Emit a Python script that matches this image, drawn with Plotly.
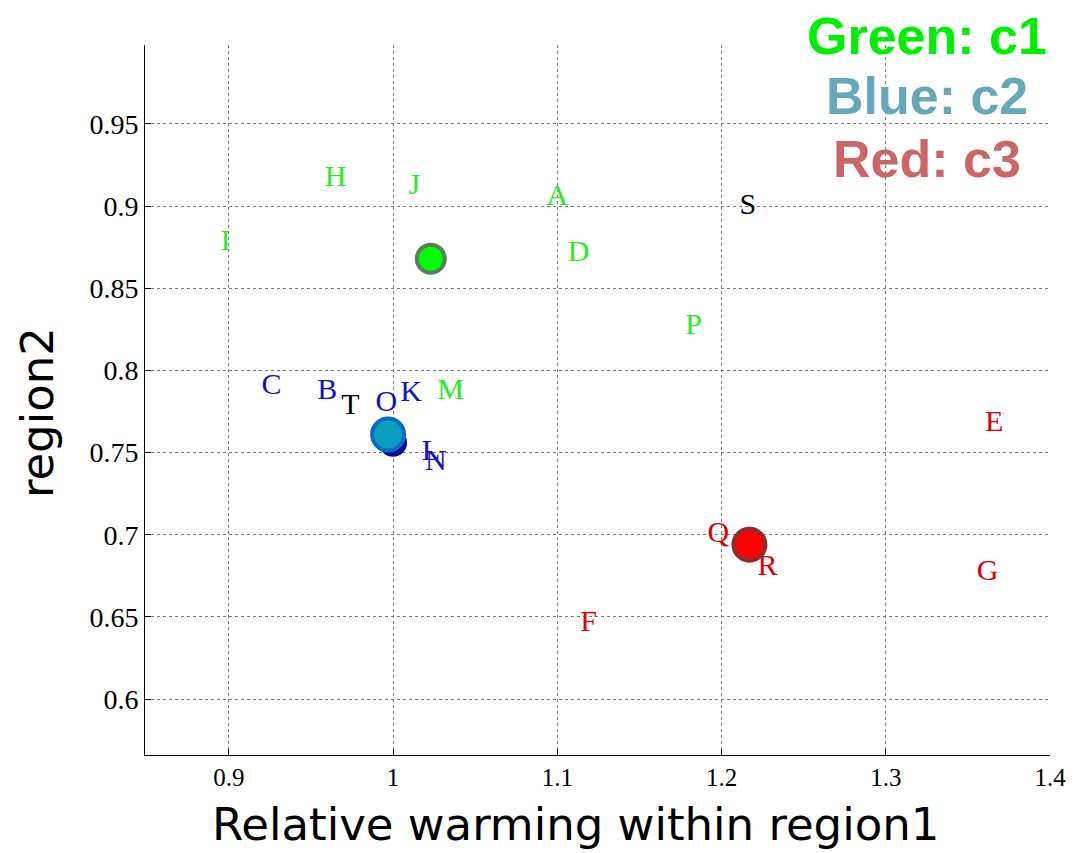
import plotly.graph_objects as go

# Labelled points (text centres)
green_labels = ["H", "J", "A", "I", "D", "P", "M"]
green_x = [0.965, 1.013, 1.100, 0.898, 1.113, 1.183, 1.035]
green_y = [0.917, 0.912, 0.905, 0.878, 0.871, 0.827, 0.787]

blue_labels = ["C", "B", "O", "K", "L", "N"]
blue_x = [0.926, 0.960, 0.996, 1.011, 1.023, 1.026]
blue_y = [0.790, 0.787, 0.780, 0.786, 0.750, 0.744]

black_labels = ["S", "T"]
black_x = [1.216, 0.974]
black_y = [0.900, 0.778]

red_labels = ["E", "Q", "R", "G", "F"]
red_x = [1.366, 1.198, 1.228, 1.362, 1.119]
red_y = [0.768, 0.700, 0.680, 0.677, 0.646]

# Cluster means
green_mean = (1.023, 0.868)
blue_mean_dark = (1.000, 0.756)
blue_mean = (0.997, 0.761)
red_mean = (1.217, 0.694)

x_ticks = [0.9, 1.0, 1.1, 1.2, 1.3, 1.4]
x_tick_text = ["0.9", "1", "1.1", "1.2", "1.3", "1.4"]
y_ticks = [0.6, 0.65, 0.7, 0.75, 0.8, 0.85, 0.9, 0.95]
y_tick_text = ["0.6", "0.65", "0.7", "0.75", "0.8", "0.85", "0.9", "0.95"]

legend_texts = ["Green: c1", "Blue: c2", "Red: c3"]
legend_colors = ["#00ee00", "#66a8ba", "#cc6666"]
legend_ypos = [1.013, 0.928, 0.840]

x_title = "Relative warming within region1"
y_title = "region2"

fig = go.Figure()

serif = "Liberation Serif"
sans = "Liberation Sans"


def letters(xs, ys, labels, color):
    fig.add_trace(go.Scatter(
        x=xs, y=ys, mode="text", text=labels,
        textfont=dict(family=serif, size=30, color=color),
        textposition="middle center", hoverinfo="skip", showlegend=False))


letters(green_x, green_y, green_labels, "#22ee22")
letters(blue_x, blue_y, blue_labels, "#1010cc")
letters(black_x, black_y, black_labels, "#000000")
letters(red_x, red_y, red_labels, "#dd0000")


def mean_marker(pt, fill, edge, size=26, width=4):
    fig.add_trace(go.Scatter(
        x=[pt[0]], y=[pt[1]], mode="markers",
        marker=dict(size=size, color=fill, line=dict(color=edge, width=width)),
        hoverinfo="skip", showlegend=False))


mean_marker(green_mean, "#00ff00", "#5a7d5a", size=28)
fig.add_trace(go.Scatter(
    x=[blue_mean_dark[0]], y=[blue_mean_dark[1]], mode="markers",
    marker=dict(size=28, color="#000a99", line=dict(width=0)),
    hoverinfo="skip", showlegend=False))
mean_marker(blue_mean, "#0a9fbf", "#0a6cc0", size=32)
mean_marker(red_mean, "#ff0000", "#8c2e2e", size=32)

for t, c, yp in zip(legend_texts, legend_colors, legend_ypos):
    fig.add_annotation(
        x=0.864, y=yp, xref="paper", yref="paper", borderpad=0,
        xanchor="center", yanchor="middle", text="<b>%s</b>" % t, showarrow=False,
        font=dict(family=sans, size=52, color=c))

# axis titles placed as in the reference
fig.add_annotation(
    x=0.476, y=-0.098, xref="paper", yref="paper",
    xanchor="center", yanchor="middle", text=x_title, showarrow=False,
    font=dict(family="DejaVu Sans", size=45, color="black"))
fig.add_annotation(
    x=-0.119, y=0.482, xref="paper", yref="paper", textangle=-90,
    xanchor="center", yanchor="middle", text=y_title, showarrow=False,
    font=dict(family="DejaVu Sans", size=45, color="black"))

axis_common = dict(
    showline=True, linecolor="black", linewidth=1, mirror=False,
    ticks="inside", ticklen=6, tickcolor="black",
    showgrid=True, gridcolor="#777777", griddash="dot", gridwidth=1,
    zeroline=False,
)

fig.update_xaxes(range=[0.849, 1.4], tickvals=x_ticks, ticktext=x_tick_text,
                 tickfont=dict(family=serif, size=25, color="black"),
                 **axis_common)
fig.update_yaxes(range=[0.566, 0.998], tickvals=y_ticks, ticktext=y_tick_text,
                 tickfont=dict(family=serif, size=28, color="black"),
                 **axis_common)

# The page body adds an 8px offset; sizes/margins compensate so the
# plot area sits where it does in the reference.
fig.update_layout(
    width=1077, height=845,
    margin=dict(l=137, r=35, t=37, b=98, autoexpand=False),
    plot_bgcolor="white", paper_bgcolor="white",
    showlegend=False,
)

fig.write_html("out.html")
